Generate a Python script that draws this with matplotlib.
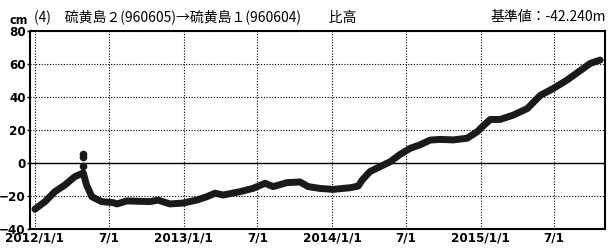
import matplotlib
matplotlib.use('Agg')
import matplotlib.pyplot as plt
import pandas as pd
import numpy as np

plt.rcParams['font.family'] = ['Noto Sans CJK JP', 'DejaVu Sans']

# 比高 (cm), 読み取り値
dates = ['2012-01-01', '2012-01-26', '2012-02-19', '2012-03-15', '2012-04-08',
         '2012-04-29', '2012-05-07', '2012-05-20', '2012-06-13', '2012-07-11',
         '2012-07-21', '2012-08-14', '2012-10-10', '2012-10-30', '2012-11-28',
         '2012-12-30', '2013-02-03', '2013-02-27', '2013-03-19', '2013-04-08',
         '2013-05-19', '2013-06-20', '2013-07-20', '2013-08-09', '2013-09-12',
         '2013-10-14', '2013-11-03', '2013-12-02', '2014-01-03', '2014-02-14',
         '2014-03-06', '2014-03-16', '2014-04-04', '2014-04-29', '2014-05-24',
         '2014-06-17', '2014-07-12', '2014-08-05', '2014-08-30', '2014-09-24',
         '2014-10-26', '2014-11-29', '2014-12-24', '2015-01-07', '2015-01-25',
         '2015-02-18', '2015-03-22', '2015-04-26', '2015-05-28', '2015-06-29',
         '2015-08-02', '2015-09-03', '2015-09-28', '2015-10-22']
values = [-28.0, -23.4, -17.4, -13.3, -8.3,
          -6.0, -13.3, -20.4, -23.4, -24.0,
          -24.8, -23.0, -23.4, -22.5, -24.8,
          -24.3, -22.4, -20.4, -18.3, -19.4,
          -17.4, -15.4, -12.3, -14.3, -11.9,
          -11.5, -14.3, -15.4, -16.0, -15.0,
          -14.0, -10.3, -5.2, -2.2, 0.8,
          5.2, 8.9, 11.0, 13.9, 14.3,
          14.0, 15.0, 19.0, 22.4, 26.4,
          26.4, 29.0, 33.0, 41.0, 45.2,
          50.3, 56.0, 60.4, 62.4]
spike_dates = ['2012-04-29', '2012-04-29', '2012-04-29']
spike_values = [5.5, 3.8, -2.0]

xticks = ['2012-01-01', '2012-07-01', '2013-01-01', '2013-07-01',
          '2014-01-01', '2014-07-01', '2015-01-01', '2015-07-01']
xticklabels = ['2012/1/1', '7/1', '2013/1/1', '7/1',
               '2014/1/1', '7/1', '2015/1/1', '7/1']

title = '(4)　硫黄島２(960605)→硫黄島１(960604)　　比高'
base_note = '基準値：-42.240m'

W, H = 609, 249
fig = plt.figure(figsize=(W / 100, H / 100), dpi=100)
ax = fig.add_axes([30 / W, 1 - 229 / H, 575 / W, 198 / H])

ax.plot(pd.to_datetime(dates), values, color='#1a1a1a', lw=5,
        solid_capstyle='round', solid_joinstyle='round', zorder=3)
ax.plot(pd.to_datetime(spike_dates), spike_values, 'o', color='#1a1a1a',
        ms=4.5, zorder=3)

ax.set_xlim(pd.Timestamp('2011-12-20'), pd.Timestamp('2015-11-03'))
ax.set_ylim(-40, 80)
ax.set_yticks(np.arange(-40, 81, 20))
ax.set_xticks(pd.to_datetime(xticks))
ax.set_xticklabels(xticklabels)

ax.grid(True, color='black', linestyle=(0, (1, 1.5)), lw=0.8)
ax.axhline(0, color='black', lw=1.0, zorder=2)
for s in ax.spines.values():
    s.set_linewidth(1.5)

ax.tick_params(axis='y', length=2, width=1, labelsize=9.5, pad=1)
ax.tick_params(axis='x', length=0, labelsize=9.5, pad=2)
for lab in ax.get_xticklabels() + ax.get_yticklabels():
    lab.set_fontweight('bold')
    lab.set_family('DejaVu Sans')
    lab.set_fontstretch('condensed')

fig.text(10 / W, 1 - 24 / H, 'cm', fontsize=9, fontweight='bold',
         family='DejaVu Sans', fontstretch='condensed', va='baseline')
base = 1 - 21.5 / H
fig.text(34 / W, base, title, fontsize=10, va='baseline')
fig.text(606 / W, base, base_note, fontsize=10, va='baseline', ha='right')

fig.savefig('out.png', dpi=100)
